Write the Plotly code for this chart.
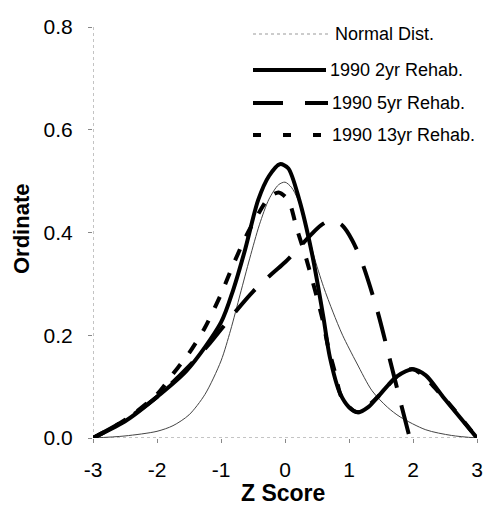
import plotly.graph_objects as go

# ---- data ----
normal_x = [-3.0, -2.5, -2.0, -1.75, -1.5, -1.25, -1.0, -0.85, -0.7, -0.55, -0.4, -0.25, -0.1, 0.0, 0.1, 0.2, 0.34, 0.45, 0.6, 0.75, 0.9, 1.12, 1.36, 1.6, 1.8, 2.2, 2.6, 3.0]
normal_y = [0.0, 0.004, 0.013, 0.024, 0.045, 0.085, 0.15, 0.21, 0.28, 0.35, 0.415, 0.465, 0.493, 0.498, 0.488, 0.465, 0.41, 0.355, 0.295, 0.245, 0.2, 0.146, 0.092, 0.06, 0.041, 0.016, 0.005, 0.0]

rehab2_x = [-3.0, -2.47, -2.0, -1.53, -1.0, -0.81, -0.625, -0.42, -0.25, -0.08, 0.05, 0.22, 0.42, 0.6, 0.70, 0.86, 1.0, 1.14, 1.3, 1.45, 1.75, 2.0, 2.2, 2.47, 3.0]
rehab2_y = [0.0, 0.035, 0.08, 0.132, 0.225, 0.288, 0.366, 0.463, 0.51, 0.533, 0.525, 0.465, 0.36, 0.235, 0.158, 0.087, 0.06, 0.05, 0.06, 0.08, 0.12, 0.134, 0.122, 0.08, 0.0]

rehab5_x = [-3.0, -2.5, -2.0, -1.5, -1.17, -0.86, -0.5, -0.2, 0.0, 0.2, 0.4, 0.56, 0.73, 0.9, 1.05, 1.2, 1.44, 1.64, 1.83, 1.95]
rehab5_y = [0.0, 0.035, 0.08, 0.14, 0.185, 0.233, 0.285, 0.32, 0.342, 0.368, 0.395, 0.414, 0.424, 0.413, 0.385, 0.343, 0.249, 0.152, 0.058, 0.0]

rehab13_x = [-3.0, -2.5, -2.0, -1.75, -1.5, -1.25, -1.0, -0.8, -0.6, -0.4, -0.25, -0.1, 0.05, 0.19, 0.33, 0.58, 0.67, 0.78, 0.9, 1.14, 1.45, 1.75, 2.0, 2.47, 3.0]
rehab13_y = [0.0, 0.035, 0.085, 0.125, 0.165, 0.215, 0.28, 0.34, 0.395, 0.44, 0.468, 0.478, 0.463, 0.405, 0.35, 0.234, 0.18, 0.128, 0.075, 0.05, 0.08, 0.12, 0.134, 0.08, 0.0]

x_ticks = [-3, -2, -1, 0, 1, 2, 3]
y_ticks = [0.0, 0.2, 0.4, 0.6, 0.8]
y_tick_labels = ["0.0", "0.2", "0.4", "0.6", "0.8"]

series_names = ["Normal Dist.", "1990 2yr Rehab.", "1990 5yr Rehab.", "1990 13yr Rehab."]

FONT = "Liberation Sans, Arial, sans-serif"

fig = go.Figure()
fig.add_trace(go.Scatter(x=normal_x, y=normal_y, mode="lines", name=series_names[0],
                         line=dict(color="#444444", width=1, shape="spline", smoothing=0.8)))
fig.add_trace(go.Scatter(x=rehab5_x, y=rehab5_y, mode="lines", name=series_names[2],
                         line=dict(color="black", width=4, dash="30px,18px", shape="spline", smoothing=0.8)))
fig.add_trace(go.Scatter(x=rehab13_x, y=rehab13_y, mode="lines", name=series_names[3],
                         line=dict(color="black", width=4, dash="12px,14px", shape="spline", smoothing=0.8)))
fig.add_trace(go.Scatter(x=rehab2_x, y=rehab2_y, mode="lines", name=series_names[1],
                         line=dict(color="black", width=4, shape="spline", smoothing=0.8)))

# dotted axis lines
fig.add_shape(type="line", x0=-3, x1=-3, y0=0, y1=0.8, xref="x", yref="y",
              line=dict(color="#888888", width=1, dash="dot"), layer="below")
fig.add_shape(type="line", x0=-3, x1=3, y0=0, y1=0, xref="x", yref="y",
              line=dict(color="#888888", width=1, dash="dot"), layer="below")

# window pixel -> data / paper conversion (plot area spans px 93..477, py 27..438)
def px2x(px):
    return (px - 93) / 64.0 - 3

def py2y(py):
    return (438 - py) / 513.75

def px2p(px):
    return (px - 93) / 384.0

def py2p(py):
    return (438 - py) / 411.0

legend_rows = [
    (series_names[0], 34, dict(color="#999999", width=1, dash="dot"), 333),
    (series_names[1], 70, dict(color="black", width=4), 328),
    (series_names[2], 103, dict(color="black", width=4, dash="30px,22px"), 330),
    (series_names[3], 135, dict(color="black", width=4, dash="8px,22px"), 330),
]
for name, py, ln, tx in legend_rows:
    fig.add_shape(type="line", x0=px2x(253), x1=px2x(tx - 2), y0=py2y(py), y1=py2y(py),
                  xref="x", yref="y", line=ln)
    fig.add_annotation(x=px2x(tx), y=py2y(py), xref="x", yref="y", text=name,
                       showarrow=False, xanchor="left", yanchor="middle",
                       font=dict(family=FONT, size=18, color="black"))

# axis titles as paper annotations
fig.add_annotation(x=px2p(283), y=py2p(493), xref="paper", yref="paper", text="<b>Z Score</b>",
                   showarrow=False, xanchor="center", yanchor="middle",
                   font=dict(family=FONT, size=23, color="black"))
fig.add_annotation(x=px2p(22), y=py2p(229), xref="paper", yref="paper", text="<b>Ordinate</b>",
                   showarrow=False, xanchor="center", yanchor="middle", textangle=-90,
                   font=dict(family=FONT, size=22, color="black"))

# page body has an 8px default margin, so the figure is 485x510 placed at (8,8)
fig.update_layout(
    width=485, height=510,
    margin=dict(l=85, r=16, t=19, b=80),
    paper_bgcolor="white", plot_bgcolor="white",
    showlegend=False,
    font=dict(family=FONT, color="black"),
)
fig.update_xaxes(range=[-3, 3], tickvals=x_ticks, ticktext=[str(v) for v in x_ticks],
                 showgrid=False, zeroline=False, showline=False, automargin=False,
                 ticks="outside", ticklen=4, tickcolor="#888888", ticklabelstandoff=9,
                 tickfont=dict(family=FONT, size=21, color="black"))
fig.update_yaxes(range=[0, 0.8], tickvals=y_ticks, ticktext=y_tick_labels,
                 showgrid=False, zeroline=False, showline=False, automargin=False,
                 ticks="outside", ticklen=4, tickcolor="#888888", ticklabelstandoff=11,
                 tickfont=dict(family=FONT, size=21, color="black"))

fig.write_html("out.html")
